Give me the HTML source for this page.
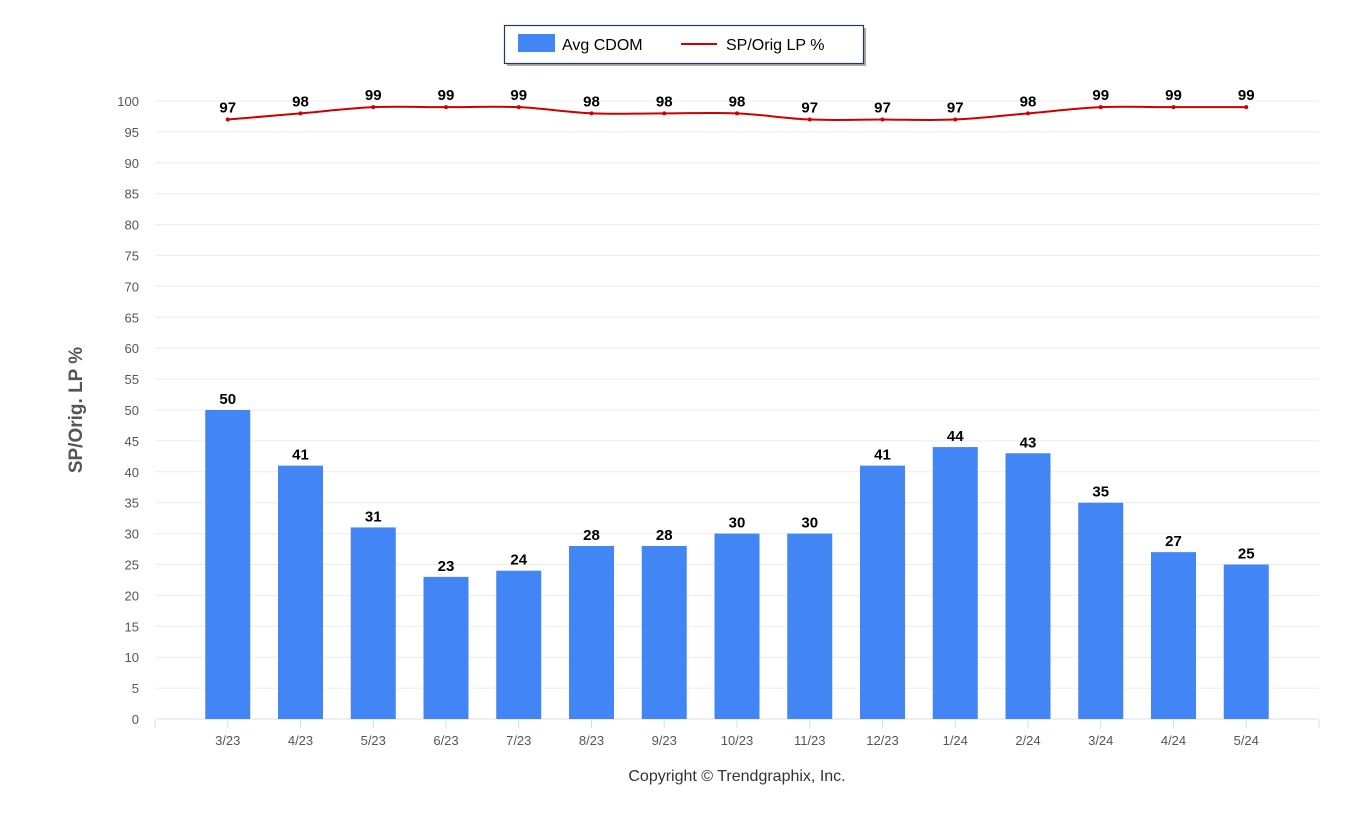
<!DOCTYPE html>
<html><head><meta charset="utf-8"><style>
body{margin:0;background:#fff;}
svg{display:block;font-family:"Liberation Sans",sans-serif;}
</style></head><body>
<svg id="chart" width="1368" height="820"></svg>
<script>
const categories=["3/23","4/23","5/23","6/23","7/23","8/23","9/23","10/23","11/23","12/23","1/24","2/24","3/24","4/24","5/24"];
const cdomValues=[50,41,31,23,24,28,28,30,30,41,44,43,35,27,25];
const spValues=[97,98,99,99,99,98,98,98,97,97,97,98,99,99,99];
const yTicks=[0,5,10,15,20,25,30,35,40,45,50,55,60,65,70,75,80,85,90,95,100];

const NS="http://www.w3.org/2000/svg";
const svg=document.getElementById('chart');
const x0=155,x1=1319,slot=(x1-x0)/16;
function xPos(i){return x0+slot*(i+1);}
function yPos(v){return 719-v*6.18;}
function mk(tag,attrs,parent){const e=document.createElementNS(NS,tag);for(const k in attrs)e.setAttribute(k,attrs[k]);(parent||svg).appendChild(e);return e;}

// grid + y labels
yTicks.forEach(t=>{
  const g=mk('line',{x1:x0,x2:x1,y1:yPos(t),y2:yPos(t),stroke:t===0?'#dcdcdc':'#ececec','stroke-width':1});
  
  
  const l=mk('text',{x:139,y:yPos(t)+5,'text-anchor':'end','font-size':13,fill:'#555'});
  l.textContent=t;
  
  
});
// x axis ticks
const tk0=mk('line',{x1:x0,x2:x0,y1:720,y2:728,stroke:'#ddd'});


const tk1=mk('line',{x1:x1,x2:x1,y1:720,y2:728,stroke:'#ddd'});


categories.forEach((c,i)=>{
  const t=mk('line',{x1:xPos(i),x2:xPos(i),y1:720,y2:728,stroke:'#ddd'});
  
  
  const l=mk('text',{x:xPos(i),y:745,'text-anchor':'middle','font-size':13,fill:'#555'});
  l.textContent=c;
  
  
});
// bars
cdomValues.forEach((v,i)=>{
  const b=mk('rect',{x:xPos(i)-22.5,y:yPos(v),width:45,height:719-yPos(v),fill:'#4285f4'});
  
  
  const l=mk('text',{x:xPos(i),y:yPos(v)-6,'text-anchor':'middle','font-size':15,'font-weight':'bold',fill:'#000'});
  l.textContent=v;
  
  
});
// line (smooth)
const pts=spValues.map((v,i)=>[xPos(i),yPos(v)]);
let d='M'+pts[0][0]+','+pts[0][1];
for(let i=0;i<pts.length-1;i++){
  const p0=pts[Math.max(i-1,0)],p1=pts[i],p2=pts[i+1],p3=pts[Math.min(i+2,pts.length-1)];
  const c1x=p1[0]+(p2[0]-p0[0])/6,c1y=p1[1]+(p2[1]-p0[1])/6;
  const c2x=p2[0]-(p3[0]-p1[0])/6,c2y=p2[1]-(p3[1]-p1[1])/6;
  d+=` C${c1x},${c1y} ${c2x},${c2y} ${p2[0]},${p2[1]}`;
}
const line=mk('path',{d:d,fill:'none',stroke:'#cc0000','stroke-width':2});


pts.forEach((p,i)=>{
  const c=mk('circle',{cx:p[0],cy:p[1],r:2,fill:'#cc0000'});
  
  
  const l=mk('text',{x:p[0],y:p[1]-7,'text-anchor':'middle','font-size':15,'font-weight':'bold',fill:'#000'});
  l.textContent=spValues[i];
  
  
});
// axis title
const yt=mk('text',{x:0,y:0,transform:'translate(82,410) rotate(-90)','text-anchor':'middle','font-size':19,'font-weight':'bold',fill:'#555'});
yt.textContent='SP/Orig. LP %';


const cp=mk('text',{x:737,y:781,'text-anchor':'middle','font-size':16,fill:'#333'});
cp.textContent='Copyright © Trendgraphix, Inc.';


// legend
const lg=mk('g',{});


mk('rect',{x:507,y:28,width:359,height:38,fill:'#aaa'},lg);
mk('rect',{x:504.5,y:25.5,width:359,height:38,fill:'#fff',stroke:'#1f3a5f','stroke-width':1.2},lg);
const e1=mk('g',{},lg);


mk('rect',{x:518,y:34,width:37,height:18,fill:'#4285f4'},e1);
const t1=mk('text',{x:562,y:50,'font-size':16,fill:'#000'},e1);t1.textContent='Avg CDOM';
const e2=mk('g',{},lg);


mk('line',{x1:681,x2:717,y1:44,y2:44,stroke:'#cc0000','stroke-width':2},e2);
const t2=mk('text',{x:726,y:50,'font-size':16,fill:'#000'},e2);t2.textContent='SP/Orig LP %';
</script>
</body></html>
